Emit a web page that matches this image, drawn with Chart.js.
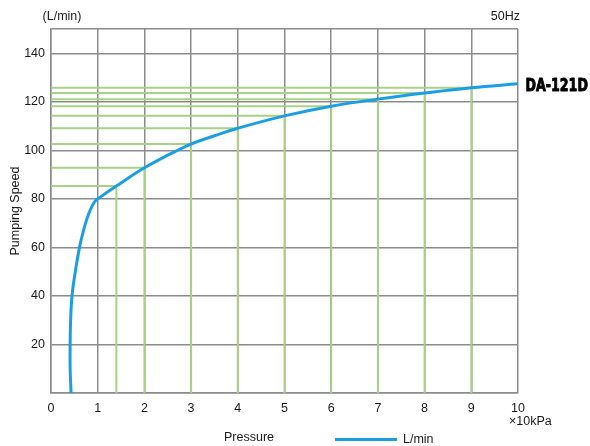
<!DOCTYPE html>
<html>
<head>
<meta charset="utf-8">
<script src="https://cdn.jsdelivr.net/npm/chart.js@4/dist/chart.umd.min.js"></script>
<style>
  html, body { margin: 0; padding: 0; background: #ffffff; }
  #wrap { width: 590px; height: 446px; }
</style>
</head>
<body>
<div id="wrap"><canvas id="chart" width="590" height="446"></canvas></div>
<script>
// Pumping speed curve of the DA-121D at 50Hz (pressure in x10kPa, speed in L/min)
const pressure = [0.43, 0.41, 0.41, 0.42, 0.45, 0.52, 0.61, 0.67, 0.74, 0.81, 0.88, 0.94, 1.0, 1.4, 2, 2.5, 3, 3.5, 4, 5, 6, 7, 8, 9, 10];
const speed    = [0,    10,   20,   30,   40,   50,   60,   65,   70,   74,   77,   79,   80,  85.3, 92.8, 98, 102.6, 106, 109.1, 114.2, 118.2, 121.1, 123.6, 125.8, 127.4];

// Reading points marked with guide lines to both axes
const markPressure = [1.4, 2, 3, 4, 5, 6, 7, 8, 9];
const markSpeed    = [85.3, 92.8, 102.6, 109.1, 114.2, 118.2, 121.1, 123.6, 125.8];

// Axis ticks
const xTicks = [0, 1, 2, 3, 4, 5, 6, 7, 8, 9, 10];
const yTicks = [0, 20, 40, 60, 80, 100, 120, 140, 150];

const BLUE = '#1a9fe2';
const GREEN = '#a9d285';
const GRID = '#8c8c8c';
const TEXT = '#1a1a1a';
const FONT = '"Liberation Sans", Arial, Helvetica, sans-serif';

const curveData = pressure.map((p, i) => ({ x: p, y: speed[i] }));

const guideSets = markPressure.map((p, i) => ({
  label: 'guide',
  data: [{ x: 0, y: markSpeed[i] }, { x: p, y: markSpeed[i] }, { x: p, y: 0 }],
  borderColor: GREEN,
  borderWidth: 2,
  pointRadius: 0,
  tension: 0,
  order: 2
}));

// Extra labels: unit, frequency, model name, axis caption and legend
const annotations = {
  id: 'annotations',
  afterDraw(chart) {
    const ctx = chart.ctx;
    ctx.save();
    ctx.fillStyle = TEXT;
    ctx.textBaseline = 'middle';
    ctx.font = '12.5px ' + FONT;

    ctx.textAlign = 'center';
    ctx.fillText('(L/min)', 62, 17);

    ctx.textAlign = 'right';
    ctx.fillText('50Hz', 520, 17);

    ctx.textAlign = 'left';
    ctx.fillText('\u00d710kPa', 509, 422);

    ctx.textAlign = 'center';
    ctx.fillText('Pressure', 249, 438);

    // legend
    ctx.strokeStyle = BLUE;
    ctx.lineWidth = 3;
    ctx.beginPath();
    ctx.moveTo(335, 439.5);
    ctx.lineTo(397, 439.5);
    ctx.stroke();
    ctx.textAlign = 'left';
    ctx.fillText('L/min', 403, 440);

    // model name, heavy condensed lettering
    ctx.fillStyle = '#000000';
    ctx.strokeStyle = '#000000';
    ctx.lineWidth = 0.9;
    ctx.lineJoin = 'round';
    ctx.font = 'bold 18px "DejaVu Sans Condensed", "DejaVu Sans", sans-serif';
    ctx.translate(525.5, 86);
    ctx.scale(0.78, 1);
    ctx.textAlign = 'left';
    ctx.fillText('DA-121D', 0, 0);
    ctx.strokeText('DA-121D', 0, 0);
    ctx.restore();
  }
};

new Chart(document.getElementById('chart'), {
  type: 'line',
  data: {
    datasets: [
      {
        label: 'L/min',
        data: curveData,
        borderColor: BLUE,
        borderWidth: 3,
        pointRadius: 0,
        tension: 0.4,
        fill: false,
        order: 0
      },
      ...guideSets
    ]
  },
  options: {
    responsive: false,
    devicePixelRatio: 1,
    animation: false,
    layout: { padding: { left: 0, right: 72, top: 29, bottom: 0 } },
    plugins: { legend: { display: false }, tooltip: { enabled: false } },
    elements: { line: { borderCapStyle: 'butt', borderJoinStyle: 'round', capBezierPoints: false } },
    scales: {
      x: {
        type: 'linear',
        min: 0,
        max: 10,
        afterBuildTicks(scale) { scale.ticks = xTicks.map(v => ({ value: v })); },
        afterFit(scale) { scale.height = 53; },
        grid: { color: GRID, lineWidth: 1.5, drawTicks: false },
        border: { color: GRID, width: 1.5 },
        ticks: { color: TEXT, font: { family: FONT, size: 12.5 }, padding: 8, maxRotation: 0 }
      },
      y: {
        type: 'linear',
        min: 0,
        max: 150,
        afterBuildTicks(scale) { scale.ticks = yTicks.map(v => ({ value: v })); },
        afterFit(scale) { scale.width = 51; },
        grid: { color: GRID, lineWidth: 1.5, drawTicks: false },
        border: { color: GRID, width: 1.5 },
        ticks: {
          color: TEXT,
          font: { family: FONT, size: 12.5 },
          padding: 6,
          callback: v => (v === 0 || v === 150) ? '' : String(v)
        },
        title: {
          display: true,
          text: 'Pumping Speed',
          color: TEXT,
          font: { family: FONT, size: 12.5 },
          padding: { top: 8, bottom: 0 }
        }
      }
    }
  },
  plugins: [annotations]
});
</script>
</body>
</html>
